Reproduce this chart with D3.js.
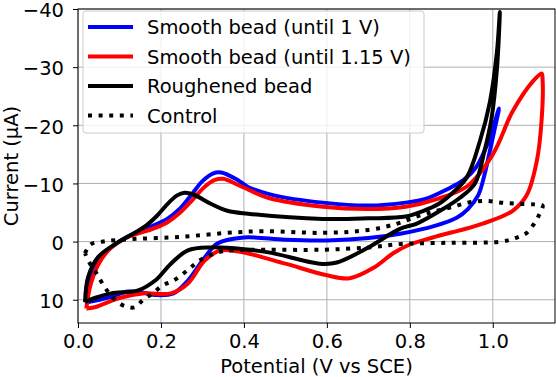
<!DOCTYPE html>
<html>
<head>
<meta charset="utf-8">
<script src="https://cdn.jsdelivr.net/npm/d3@7"></script>
<style>
  body { margin: 0; background: #fff; }
  text { font-family: "DejaVu Sans", sans-serif; }
</style>
</head>
<body>
<script>
// values (potential in V vs SCE, current in uA)
var xTicks = [0, 0.2, 0.4, 0.6, 0.8, 1.0];
var yTicks = [-40, -30, -20, -10, 0, 10];

var seriesNames = ['Smooth bead (until 1 V)', 'Smooth bead (until 1.15 V)', 'Roughened bead', 'Control'];

var smooth1V = [
  [0.02, 10.5], [0.03, 6.2], [0.048, 3.3], [0.08, 1.0], [0.137, -1.5], [0.18, -2.7], [0.215, -3.9],
  [0.245, -5.6], [0.275, -8.2], [0.30, -10.4], [0.325, -11.7], [0.345, -11.9], [0.385, -10.6], [0.41, -9.4],
  [0.47, -8.0], [0.59, -6.7], [0.70, -6.2], [0.79, -6.7], [0.84, -7.4], [0.89, -9.0], [0.93, -10.6],
  [0.96, -12.8], [0.99, -17.3], [1.015, -22.9],
  [1.005, -19.5], [0.993, -15.6], [0.98, -11.5], [0.965, -8.0], [0.94, -5.6], [0.913, -4.1], [0.86, -2.7],
  [0.78, -1.4], [0.70, -0.6], [0.60, -0.2], [0.50, -0.3], [0.40, -0.7], [0.337, 0.3], [0.306, 2.7],
  [0.265, 6.7], [0.23, 8.9], [0.19, 9.2], [0.15, 8.7], [0.12, 8.6], [0.08, 9.5], [0.04, 10.2], [0.02, 10.5]
];

var smooth115V = [
  [0.02, 11.5], [0.03, 7.5], [0.05, 3.8], [0.08, 1.0], [0.12, -0.8], [0.18, -2.2], [0.215, -3.3],
  [0.245, -4.9], [0.275, -7.1], [0.305, -9.4], [0.33, -10.6], [0.35, -10.8], [0.39, -9.6], [0.46, -7.5],
  [0.59, -6.0], [0.70, -5.6], [0.79, -6.0], [0.865, -7.3], [0.94, -9.6], [1.0, -15.0], [1.048, -22.4],
  [1.096, -27.5], [1.118, -28.9],
  [1.12, -28.0], [1.118, -21.2], [1.106, -13.8], [1.082, -8.0], [1.048, -5.3], [0.976, -3.1], [0.855, -0.7],
  [0.80, 0.5], [0.76, 2.0], [0.715, 4.4], [0.655, 6.3], [0.60, 5.8], [0.50, 3.8], [0.40, 1.9],
  [0.345, 1.5], [0.306, 3.2], [0.265, 7.2], [0.224, 8.9], [0.16, 8.9], [0.10, 9.7], [0.04, 11.3], [0.02, 11.5]
];

var roughened = [
  [0.017, 10.4], [0.024, 6.2], [0.048, 2.7], [0.09, 0.4], [0.137, -1.5], [0.165, -2.8], [0.19, -4.4],
  [0.215, -6.4], [0.238, -7.9], [0.257, -8.4], [0.278, -8.1], [0.32, -6.5], [0.36, -5.3], [0.41, -4.8],
  [0.59, -3.9], [0.70, -4.0], [0.79, -4.3], [0.83, -5.2], [0.87, -6.5], [0.90, -8.2], [0.937, -11.0],
  [0.969, -17.3], [0.993, -24.0], [1.01, -32.6], [1.017, -39.5],
  [1.01, -29.7], [0.997, -21.2], [0.98, -15.6], [0.957, -10.0], [0.92, -7.5], [0.88, -5.6], [0.817, -3.1],
  [0.776, -2.2], [0.70, 1.0], [0.624, 3.6], [0.583, 3.8], [0.463, 1.9], [0.40, 1.3], [0.32, 1.0],
  [0.265, 1.5], [0.224, 3.8], [0.186, 6.7], [0.145, 8.4], [0.08, 8.9], [0.04, 9.7], [0.017, 10.4]
];

var control = [
  [0.017, 2.0], [0.03, 0.5], [0.06, 0.0], [0.10, -0.3], [0.15, -0.5], [0.22, -0.7], [0.28, -1.0],
  [0.36, -1.5], [0.45, -1.8], [0.59, -1.5], [0.70, -2.0], [0.77, -3.1], [0.82, -4.4], [0.86, -5.2],
  [0.90, -5.9], [0.94, -6.7], [0.98, -7.0], [1.02, -6.7], [1.06, -6.5], [1.10, -6.4], [1.12, -6.2],
  [1.113, -4.8], [1.10, -3.1], [1.082, -1.5], [1.058, -0.7], [1.02, 0.0], [0.90, 0.2], [0.78, 0.4],
  [0.70, 1.0], [0.59, 1.4], [0.45, 1.4], [0.37, 1.5], [0.335, 1.9], [0.294, 3.2], [0.263, 5.0],
  [0.23, 6.7], [0.205, 7.5], [0.18, 8.9], [0.157, 10.0], [0.137, 11.3], [0.113, 11.1], [0.089, 10.0],
  [0.073, 8.7], [0.057, 7.0], [0.045, 5.5], [0.029, 3.8], [0.017, 2.0]
];

var series = [
  {name: seriesNames[0], data: smooth1V, color: '#0000ff', dash: null},
  {name: seriesNames[1], data: smooth115V, color: '#ff0000', dash: null},
  {name: seriesNames[2], data: roughened, color: '#000000', dash: null},
  {name: seriesNames[3], data: control, color: '#000000', dash: '4,6.6'}
];

// layout
var margin = {top: 9, right: 1, bottom: 54, left: 78},
    width = 556 - margin.left - margin.right,
    height = 377 - margin.top - margin.bottom;

var fontSize = '19.5px';

var x = d3.scaleLinear().domain([0, 1.15]).range([0, width]);
var y = d3.scaleLinear().domain([-40, 14]).range([0, height]);

var svg = d3.select('body')
  .append('svg')
  .attr('width', 556)
  .attr('height', 377)
  .append('g')
  .attr('transform', 'translate(' + margin.left + ',' + margin.top + ')');

// grid
svg.selectAll('.gx').data(xTicks).enter().append('line')
  .attr('x1', function (d) { return x(d); }).attr('x2', function (d) { return x(d); })
  .attr('y1', 0).attr('y2', height)
  .style('stroke', '#b0b0b0').style('stroke-width', 1);
svg.selectAll('.gy').data(yTicks).enter().append('line')
  .attr('x1', 0).attr('x2', width)
  .attr('y1', function (d) { return y(d); }).attr('y2', function (d) { return y(d); })
  .style('stroke', '#b0b0b0').style('stroke-width', 1);

// curves
var line = d3.line()
  .x(function (d) { return x(d[0]); })
  .y(function (d) { return y(d[1]); })
  .curve(d3.curveCatmullRom.alpha(0.5));

svg.append('clipPath').attr('id', 'clip')
  .append('rect').attr('width', width).attr('height', height);

series.forEach(function (s) {
  svg.append('path')
    .datum(s.data)
    .attr('clip-path', 'url(#clip)')
    .attr('d', line)
    .style('fill', 'none')
    .style('stroke', s.color)
    .style('stroke-width', 4)
    .style('stroke-linejoin', 'round')
    .style('stroke-dasharray', s.dash);
});

// axes
var xAxis = svg.append('g')
  .attr('transform', 'translate(0,' + height + ')')
  .call(d3.axisBottom(x).tickValues(xTicks).tickFormat(d3.format('.1f')).tickSize(5).tickPadding(6));
var yAxis = svg.append('g')
  .call(d3.axisLeft(y).tickValues(yTicks).tickSize(5).tickPadding(9));

[xAxis, yAxis].forEach(function (a) {
  a.select('.domain').remove();
  a.selectAll('text').style('font-size', fontSize).attr('fill', '#000');
  a.selectAll('line').style('stroke', '#000').style('stroke-width', 1);
});
yAxis.selectAll('text').attr('dy', '0.4em');

// frame
svg.append('rect')
  .attr('x', 0).attr('y', 0).attr('width', width).attr('height', height)
  .style('fill', 'none').style('stroke', '#000').style('stroke-width', 1);

// axis labels
svg.append('text')
  .attr('x', width / 2)
  .attr('y', height + 50)
  .attr('text-anchor', 'middle')
  .style('font-size', fontSize)
  .text('Potential (V vs SCE)');
svg.append('text')
  .attr('transform', 'rotate(-90)')
  .attr('x', -height / 2)
  .attr('y', -60)
  .attr('text-anchor', 'middle')
  .style('font-size', fontSize)
  .text('Current (\u03bcA)');

// legend
var legend = svg.append('g').attr('transform', 'translate(5,2)');
legend.append('rect')
  .attr('width', 341).attr('height', 122).attr('rx', 3)
  .style('fill', '#fff').style('fill-opacity', 0.8)
  .style('stroke', '#cccccc').style('stroke-width', 1);
series.forEach(function (s, i) {
  var g = legend.append('g').attr('transform', 'translate(0,' + (16 + i * 29.5) + ')');
  g.append('line')
    .attr('x1', 5).attr('x2', 50)
    .style('stroke', s.color).style('stroke-width', 4)
    .style('stroke-dasharray', s.dash);
  g.append('text')
    .attr('x', 64).attr('y', 7)
    .style('font-size', fontSize)
    .text(s.name);
});
</script>
</body>
</html>
